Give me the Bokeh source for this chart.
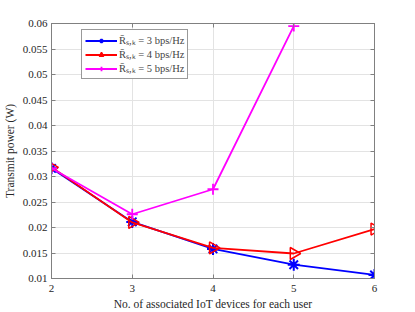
from bokeh.plotting import figure
from bokeh.models import Range1d, FixedTicker, LinearAxis, Legend, LegendItem
from bokeh.embed import file_html
from bokeh.resources import INLINE
from math import pi

x_vals = [2, 3, 4, 5, 6]
r3 = [0.0316, 0.0211, 0.0158, 0.0127, 0.0107]
r4 = [0.0318, 0.0210, 0.0160, 0.0149, 0.0197]
x5 = [2, 3, 4, 5]
r5 = [0.0316, 0.0226, 0.0275, 0.0595]

y_ticks = [0.01, 0.015, 0.02, 0.025, 0.03, 0.035, 0.04, 0.045, 0.05, 0.055, 0.06]
y_tick_labels = ["0.01", "0.015", "0.02", "0.025", "0.03", "0.035", "0.04", "0.045", "0.05", "0.055", "0.06"]
x_ticks = [2, 3, 4, 5, 6]
labels = ["R\u0304\u209b,\u2096 = 3 bps/Hz", "R\u0304\u209b,\u2096 = 4 bps/Hz", "R\u0304\u209b,\u2096 = 5 bps/Hz"]

FONT = "Liberation Serif"
AX = "#808080"

p = figure(frame_width=323, frame_height=255, min_border_left=50, min_border_top=23,
           min_border_right=24, min_border_bottom=30,
           x_range=Range1d(2, 6), y_range=Range1d(0.01, 0.06),
           output_backend="svg", toolbar_location=None, background_fill_color="white")

p.outline_line_color = AX
p.outline_line_width = 1

for ax in [p.xaxis[0], p.yaxis[0]]:
    ax.axis_line_color = AX
    ax.major_tick_line_color = AX
    ax.major_tick_in = 4
    ax.major_tick_out = 0
    ax.minor_tick_line_color = None
    ax.major_label_text_font = FONT
    ax.major_label_text_font_size = "11px"
    ax.major_label_text_color = "#262626"
    ax.axis_label_text_font = FONT
    ax.axis_label_text_font_size = "11.5px"
    ax.axis_label_text_font_style = "normal"
    ax.axis_label_text_color = "#262626"

p.xaxis[0].ticker = FixedTicker(ticks=x_ticks)
p.yaxis[0].ticker = FixedTicker(ticks=y_ticks)
p.yaxis[0].major_label_overrides = {t: l for t, l in zip(y_ticks, y_tick_labels)}
p.xaxis[0].axis_label = "No. of associated IoT devices for each user"
p.yaxis[0].axis_label = "Transmit power (W)"
p.xaxis[0].major_label_standoff = 6
p.xaxis[0].axis_label_standoff = 3
p.yaxis[0].major_label_standoff = 4
p.yaxis[0].axis_label_standoff = 4

for loc, tk in [("right", y_ticks), ("above", x_ticks)]:
    a = LinearAxis(ticker=FixedTicker(ticks=tk), axis_line_color=AX, major_tick_line_color=AX,
                   major_tick_in=4, major_tick_out=0, minor_tick_line_color=None,
                   major_label_text_color=None, major_label_text_font_size="1px",
                   major_label_standoff=0)
    p.add_layout(a, loc)

p.xgrid.grid_line_color = "#e3e3e3"
p.ygrid.grid_line_color = "#e3e3e3"
p.xgrid.ticker = FixedTicker(ticks=x_ticks)
p.ygrid.ticker = FixedTicker(ticks=y_ticks)

l1 = p.line(x_vals, r3, line_color="blue", line_width=1.8)
m1 = p.scatter(x_vals, r3, marker="asterisk", size=12, line_color="blue", line_width=2)
l2 = p.line(x_vals, r4, line_color="red", line_width=1.8)
m2 = p.scatter(x_vals, r4, marker="triangle", angle=-pi / 2, size=12, line_color="red",
               fill_color=None, line_width=1.5)
l3 = p.line(x5, r5, line_color="magenta", line_width=1.8)
m3 = p.scatter(x5, r5, marker="cross", size=11, line_color="magenta", line_width=1.8)

legend = Legend(items=[LegendItem(label=labels[0], renderers=[l1, m1]),
                       LegendItem(label=labels[1], renderers=[l2, m2]),
                       LegendItem(label=labels[2], renderers=[l3, m3])],
                location=(30, 199), label_text_font=FONT, label_text_font_size="10.5px",
                glyph_width=32, glyph_height=11, label_height=11, spacing=0, padding=3,
                label_standoff=2, border_line_color="#333333", border_line_width=1,
                background_fill_color="white", background_fill_alpha=1, margin=0)
p.add_layout(legend, "center")

open("out.html", "w").write(file_html(p, INLINE))
